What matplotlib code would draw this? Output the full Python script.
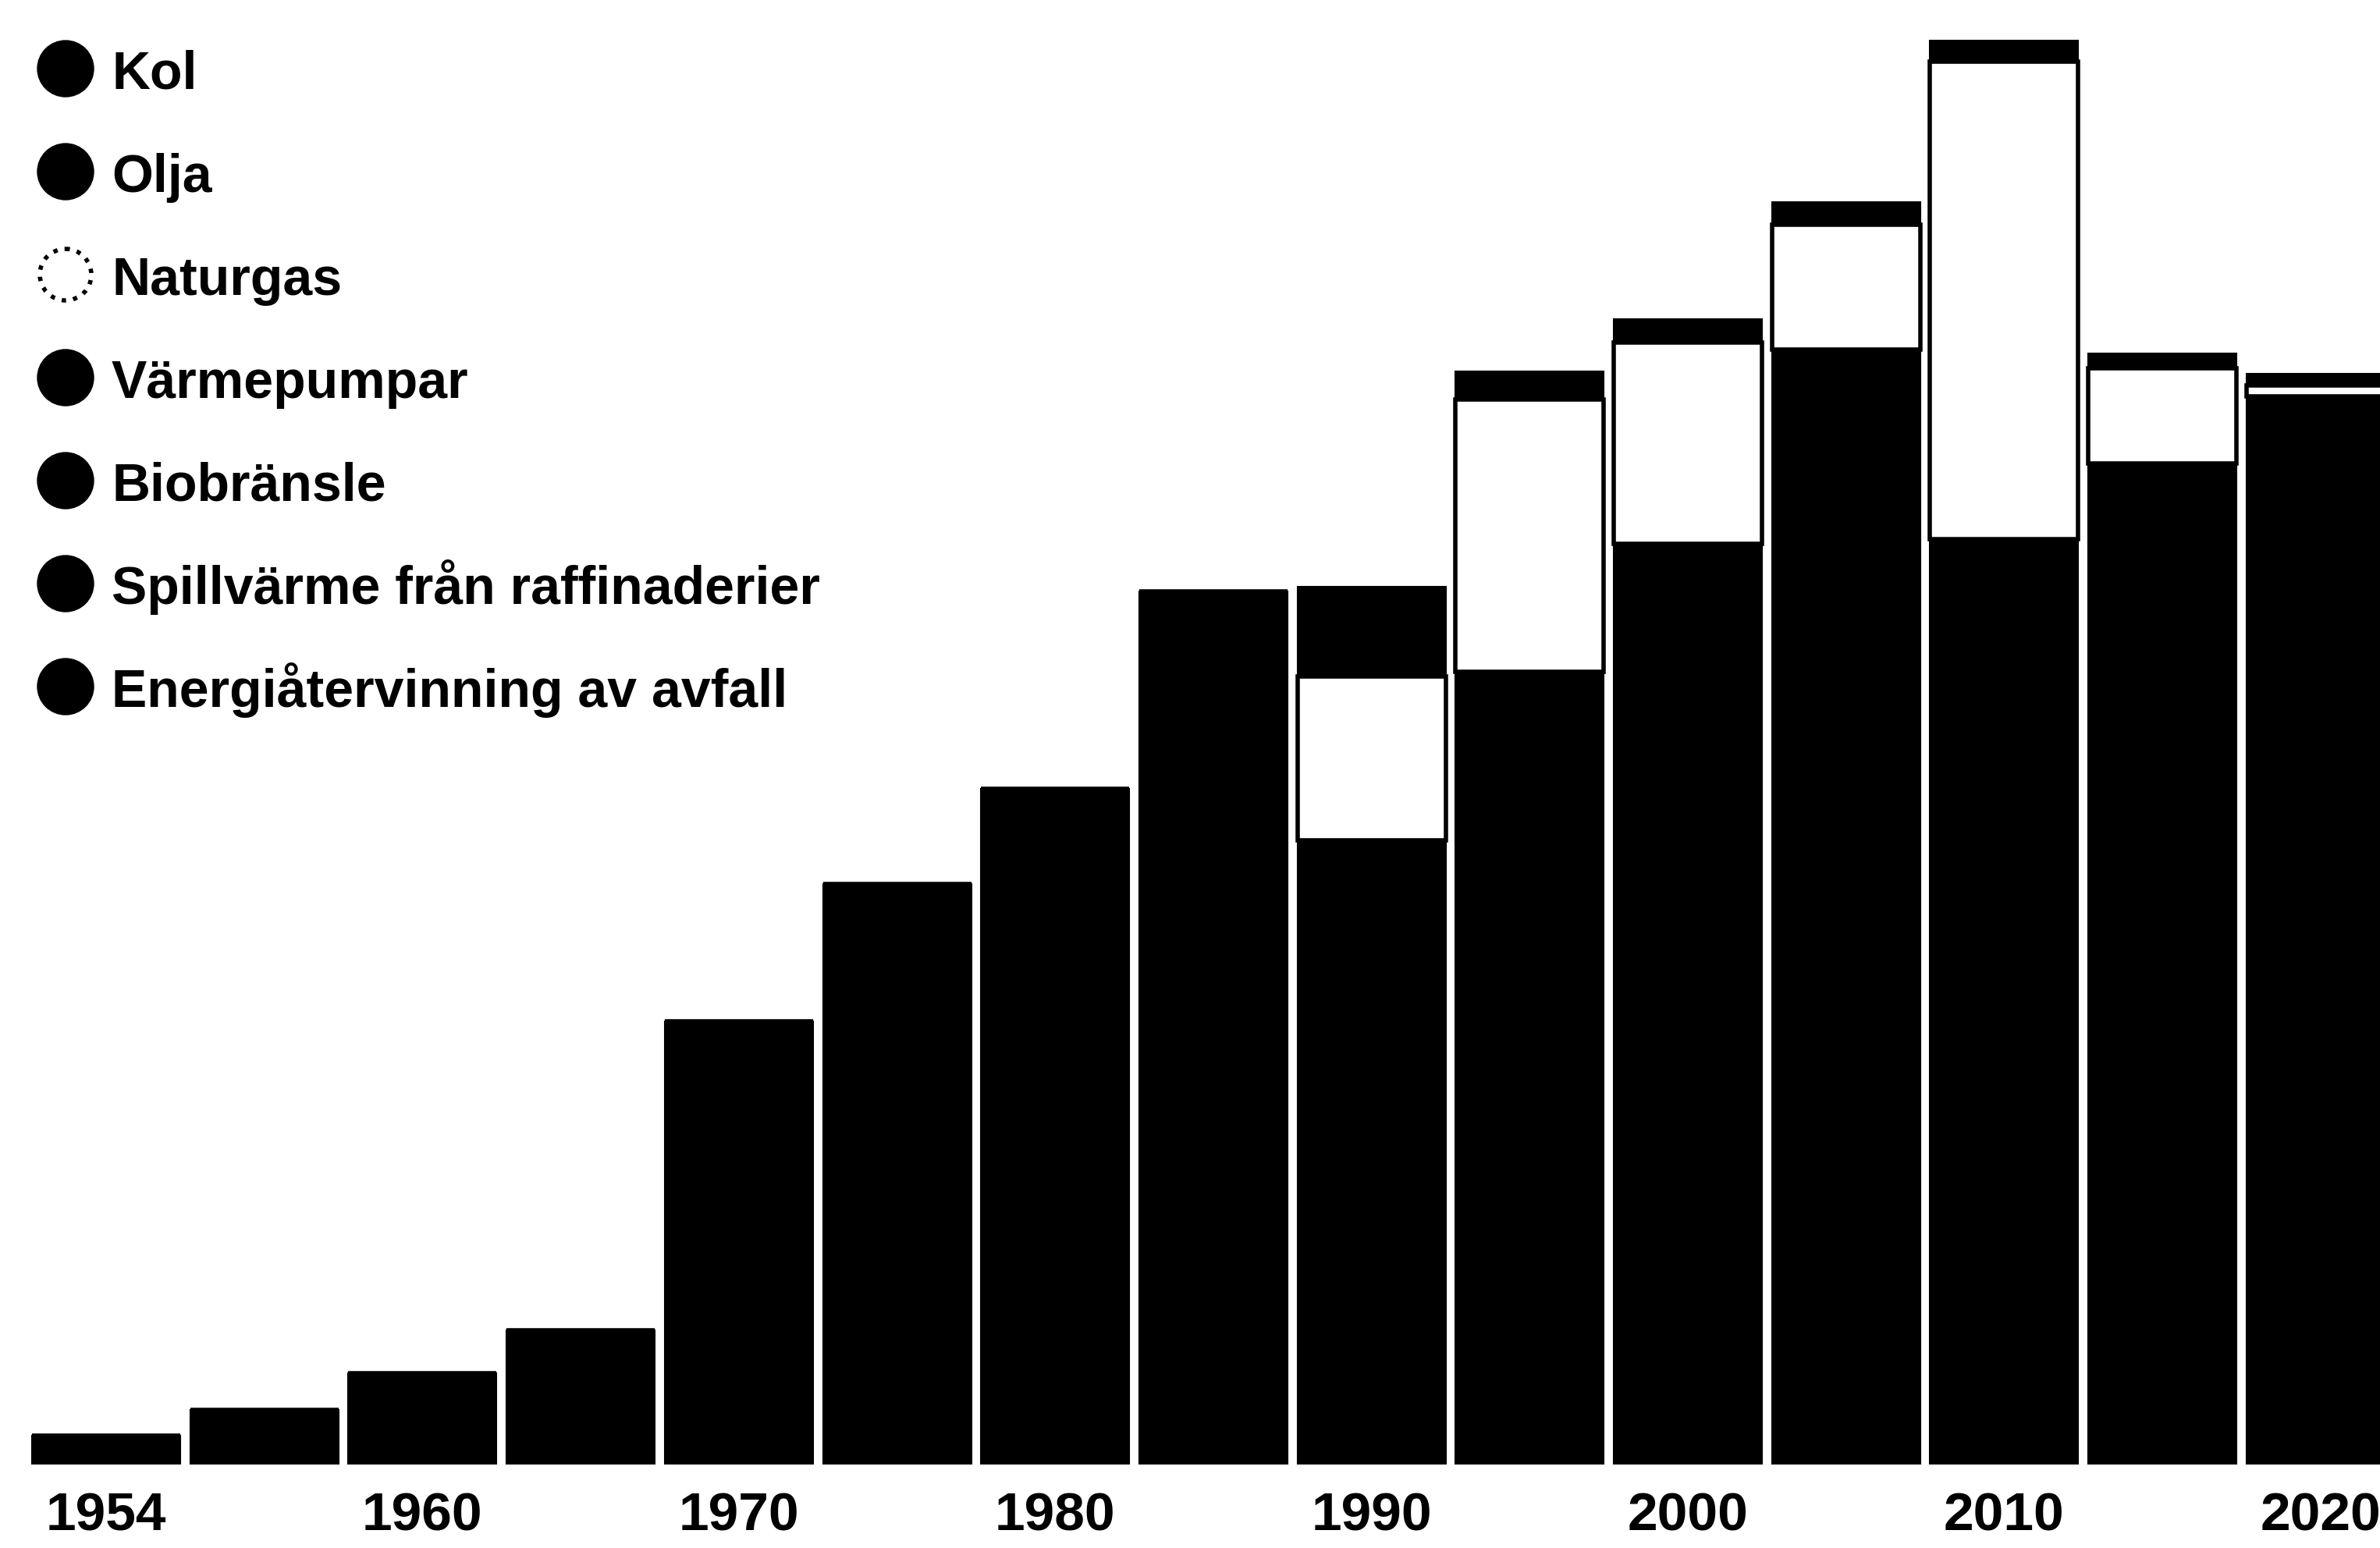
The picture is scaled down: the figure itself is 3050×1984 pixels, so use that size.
import matplotlib
matplotlib.use('Agg')
import matplotlib.pyplot as plt
from matplotlib.patches import Circle
import numpy as np

plt.rcParams['font.family'] = ['Liberation Sans', 'DejaVu Sans']
plt.rcParams['font.weight'] = 'bold'

# one bar per five years, first one 1954; only every other one gets a label
ar = ['1954', '', '1960', '', '1970', '', '1980', '', '1990', '', '2000', '', '2010', '', '2020']

# scanned black/white chart: the layers can only be told apart as
# lower black block, white natural gas block, thin black top block
nedre = [37, 70, 117, 172, 568, 744, 866, 1119, 800, 1016, 1180, 1429, 1186, 1283, 1369]
naturgas = [0, 0, 0, 0, 0, 0, 0, 0, 210, 349, 258, 160, 612, 122, 14]
ovre = [0, 0, 0, 0, 0, 0, 0, 0, 115, 36, 30, 29, 27, 19, 15]

legend_labels = ['Kol', 'Olja', 'Naturgas', 'Värmepumpar', 'Biobränsle',
                 'Spillvärme från raffinaderier', 'Energiåtervinning av avfall']
legend_fill = ['black', 'black', 'white', 'black', 'black', 'black', 'black']

W, H = 3050, 1984
fig = plt.figure(figsize=(W / 100, H / 100), dpi=100)
fig.patch.set_facecolor('white')

ax = fig.add_axes([0, 107 / H, 1, 1877 / H])
x = np.arange(len(ar))
w = 190 / 202.7
nedre = np.array(nedre)
naturgas = np.array(naturgas)
ovre = np.array(ovre)

ax.bar(x, nedre, w, color='black', edgecolor='black', linewidth=1.5)
ax.bar(x, naturgas, w, bottom=nedre, color='white', edgecolor='black', linewidth=4)
ax.bar(x, ovre, w, bottom=nedre + naturgas, color='black', edgecolor='black', linewidth=1.5)

ax.set_xlim(-136 / 202.7, (W - 136) / 202.7)
ax.set_ylim(0, 1877)
ax.set_xticks(x)
ax.set_xticklabels(ar, fontsize=50, fontweight='bold')
ax.tick_params(axis='x', length=0, pad=25)
ax.set_yticks([])
for s in ax.spines.values():
    s.set_visible(False)
ax.patch.set_alpha(0)

# legend drawn in pixel coordinates on an overlay
lg = fig.add_axes([0, 0, 1, 1])
lg.set_xlim(0, W)
lg.set_ylim(H, 0)
lg.axis('off')
lg.patch.set_alpha(0)
for i, (lab, fc) in enumerate(zip(legend_labels, legend_fill)):
    yc = 88 + i * 132
    if fc == 'white':
        lg.add_patch(Circle((84, yc), 33, facecolor='white', edgecolor='black',
                            linewidth=4, linestyle=':'))
    else:
        lg.add_patch(Circle((84, yc), 36, facecolor='black', edgecolor='black'))
    lg.text(143, yc + 26, lab, fontsize=49, fontweight='bold', va='baseline', ha='left')

fig.savefig('out.png', dpi=100, facecolor='white')
